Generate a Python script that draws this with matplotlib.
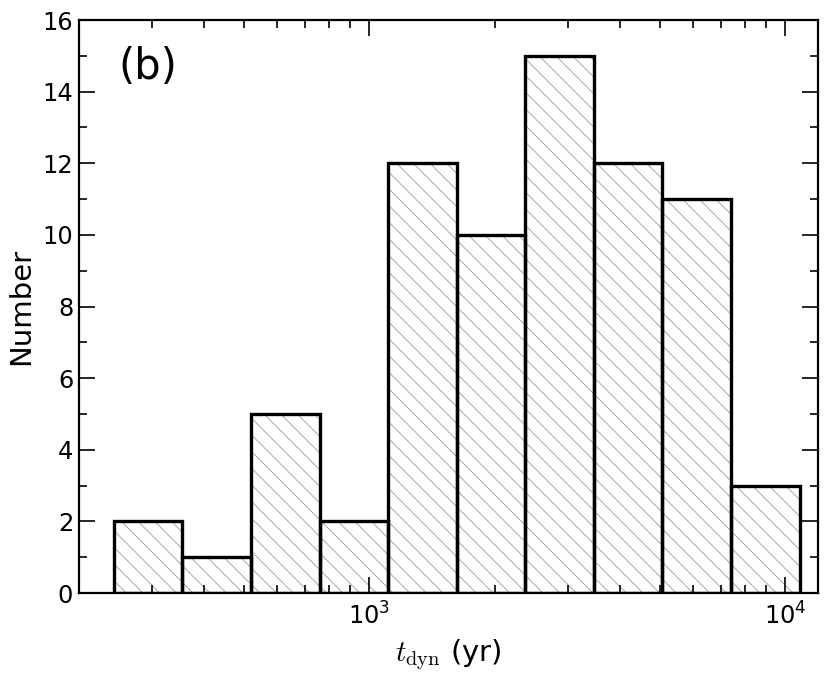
import matplotlib
matplotlib.use("Agg")
import matplotlib.pyplot as plt
from matplotlib.ticker import MultipleLocator, LogLocator, NullFormatter

# histogram (log-spaced bins)
bin_edges = [242.7, 354.8, 518.8, 758.6, 1109, 1622, 2371, 3467, 5070, 7413, 10839]
counts = [2, 1, 5, 2, 12, 10, 15, 12, 11, 3]
panel_label = "(b)"
x_label = r"$t_{\rm dyn}$ (yr)"
y_label = "Number"

plt.rcParams["mathtext.fontset"] = "cm"
plt.rcParams["hatch.linewidth"] = 0.6

dpi = 100
fig = plt.figure(figsize=(830 / dpi, 685 / dpi), dpi=dpi)
ax = fig.add_axes([0.0952, 0.1343, 0.8903, 0.8365])

lefts = bin_edges[:-1]
widths = [b - a for a, b in zip(bin_edges[:-1], bin_edges[1:])]

# hatch layer in grey, then black outlines on top
ax.bar(lefts, counts, width=widths, align="edge", fill=False,
       hatch="\\\\", edgecolor="#999999", linewidth=0)
ax.bar(lefts, counts, width=widths, align="edge", fill=False,
       edgecolor="black", linewidth=2.4)

ax.set_xscale("log")
ax.set_xlim(200, 12000)
ax.set_ylim(0, 16)
ax.yaxis.set_major_locator(MultipleLocator(2))
ax.yaxis.set_minor_locator(MultipleLocator(1))
ax.xaxis.set_minor_locator(LogLocator(base=10, subs=range(2, 10)))
ax.xaxis.set_minor_formatter(NullFormatter())

ax.tick_params(which="both", direction="in", top=True, right=True, labelsize=17.4)
ax.tick_params(which="major", length=11.5, width=1.2)
ax.tick_params(which="minor", length=5.8, width=1.2)
ax.tick_params(axis="y", pad=4.2)
ax.tick_params(axis="x", pad=7)
for sp in ax.spines.values():
    sp.set_linewidth(1.6)

ax.set_xlabel(x_label, fontsize=21, labelpad=5)
ax.set_ylabel(y_label, fontsize=21, labelpad=5)
ax.text(0.053, 0.918, panel_label, transform=ax.transAxes, fontsize=30,
        ha="left", va="center")

fig.savefig("out.png", dpi=dpi)
